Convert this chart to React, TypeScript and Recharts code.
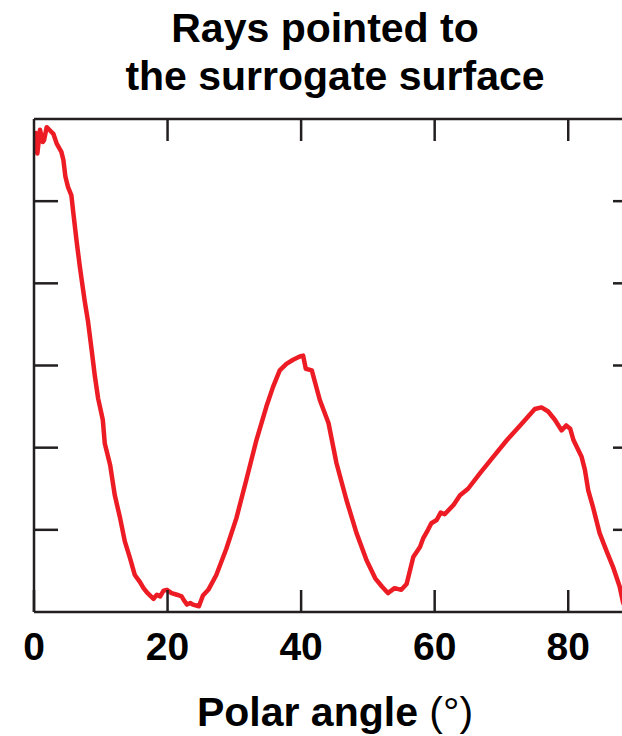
import React from 'react';
import { LineChart, Line, XAxis, YAxis } from 'recharts';

// polar angle (deg) and relative ray count
const angles = [
  0, 0.3, 0.5, 0.9, 1.3, 1.5, 1.9, 2.4, 2.9, 3.4, 4.1, 4.4, 4.7, 5.1, 5.6, 5.9,
  6.4, 6.9, 7.6, 8.1, 8.6, 9.1, 9.6, 10.3, 10.6, 11.4, 12.1, 12.9, 13.6, 14.4,
  15.1, 15.9, 16.4, 16.9, 17.4, 17.9, 18.4, 18.9, 19.4, 19.9, 20.6, 21.4, 22.1,
  22.4, 22.9, 23.4, 23.8, 24.7, 25.3, 26.1, 27.3, 28.8, 30.3, 31.8, 33.3, 34.8,
  35.8, 36.8, 37.8, 38.8, 39.8, 40.3, 40.7, 41.6, 42.8, 44.1, 45.3, 46.8, 48.3,
  49.8, 51.1, 52.1, 53.0, 54.0, 55.0, 55.8, 56.8, 57.8, 58.3, 59.0, 59.5, 60.3,
  60.9, 61.5, 62.8, 63.8, 65.0, 66.8, 68.8, 70.8, 72.8, 74.0, 75.0, 76.0, 77.0,
  78.0, 79.0, 79.7, 80.3, 80.8, 82.0, 82.5, 83.0, 83.7, 84.7, 85.7, 86.7, 87.7,
  88.2, 88.8,
];
const rayCount = [
  5.65, 5.83, 5.58, 5.87, 5.72, 5.74, 5.9, 5.86, 5.82, 5.7, 5.6, 5.5, 5.3, 5.17,
  5.07, 4.85, 4.5, 4.18, 3.78, 3.53, 3.21, 2.88, 2.6, 2.34, 2.05, 1.79, 1.42,
  1.14, 0.86, 0.65, 0.45, 0.36, 0.29, 0.24, 0.2, 0.16, 0.21, 0.19, 0.26, 0.27,
  0.23, 0.21, 0.19, 0.15, 0.09, 0.11, 0.09, 0.07, 0.2, 0.27, 0.45, 0.77, 1.14,
  1.61, 2.09, 2.5, 2.74, 2.94, 3.02, 3.07, 3.11, 3.12, 2.96, 2.94, 2.58, 2.3,
  1.81, 1.36, 0.96, 0.63, 0.41, 0.31, 0.23, 0.29, 0.27, 0.34, 0.67, 0.79, 0.9,
  1.0, 1.08, 1.12, 1.21, 1.19, 1.3, 1.42, 1.5, 1.69, 1.89, 2.09, 2.27, 2.38,
  2.47, 2.49, 2.44, 2.34, 2.21, 2.27, 2.23, 2.09, 1.89, 1.73, 1.48, 1.28, 0.96,
  0.75, 0.55, 0.31, 0.12, 0.0,
];

const bottomTicks = [0, 20, 40, 60, 80];
const topTicks = [20, 40, 60, 80];
const sideTicks = [1, 2, 3, 4, 5];
const titleLines = ['Rays pointed to', 'the surrogate surface'];
const xLabel = 'Polar angle';
const xUnit = '(°)';

const data = angles.map((a, i) => ({ angle: a, count: rayCount[i] }));

const AXIS = '#231f20';
const RED = '#ed1c24';
const FONT = '"Liberation Sans", Arial, Helvetica, sans-serif';

const BottomTick = (props: any) => {
  const { x, y, payload } = props;
  return (
    <g>
      <line x1={x} x2={x} y1={y} y2={y - 22} stroke={AXIS} strokeWidth={2.5} />
      <text x={x} y={y + 48} textAnchor="middle" fontSize={39} fontWeight="bold" fontFamily={FONT} fill="#000">
        {payload.value}
      </text>
    </g>
  );
};

const TopTick = (props: any) => (
  <line x1={props.x} x2={props.x} y1={props.y} y2={props.y + 22} stroke={AXIS} strokeWidth={2.5} />
);

const LeftTick = (props: any) => (
  <line x1={props.x} x2={props.x + 24} y1={props.y} y2={props.y} stroke={AXIS} strokeWidth={2.5} />
);

const RightTick = (props: any) => (
  <line x1={props.x} x2={props.x - 22} y1={props.y} y2={props.y} stroke={AXIS} strokeWidth={2.5} />
);

const axisLine = { stroke: AXIS, strokeWidth: 2.5 };

export default function App() {
  return (
    <div style={{ position: 'fixed', left: 0, top: 0, width: 622, height: 736, overflow: 'hidden', background: '#fff' }}>
      <LineChart width={680} height={736} data={data} margin={{ top: 118, right: 44, bottom: 123, left: 33 }}>
        <XAxis
          xAxisId="bottom"
          dataKey="angle"
          type="number"
          domain={[0, 90]}
          ticks={bottomTicks}
          interval={0}
          height={1}
          tickSize={0}
          tickMargin={0}
          tickLine={false}
          axisLine={axisLine}
          tick={BottomTick}
          allowDataOverflow
        />
        <XAxis
          xAxisId="top"
          orientation="top"
          dataKey="angle"
          type="number"
          domain={[0, 90]}
          ticks={topTicks}
          interval={0}
          height={1}
          tickSize={0}
          tickMargin={0}
          tickLine={false}
          axisLine={axisLine}
          tick={TopTick}
          allowDataOverflow
        />
        <YAxis
          yAxisId="left"
          type="number"
          domain={[0, 6]}
          ticks={sideTicks}
          interval={0}
          width={1}
          tickSize={0}
          tickMargin={0}
          tickLine={false}
          axisLine={axisLine}
          tick={LeftTick}
          allowDataOverflow
        />
        <YAxis
          yAxisId="right"
          orientation="right"
          type="number"
          domain={[0, 6]}
          ticks={sideTicks}
          interval={0}
          width={1}
          tickSize={0}
          tickMargin={0}
          tickLine={false}
          axisLine={axisLine}
          tick={RightTick}
          allowDataOverflow
        />
        <Line
          xAxisId="bottom"
          yAxisId="left"
          type="linear"
          dataKey="count"
          stroke={RED}
          strokeWidth={4.5}
          strokeLinejoin="round"
          strokeLinecap="round"
          dot={false}
          isAnimationActive={false}
        />
      </LineChart>
      <svg width={622} height={736} style={{ position: 'absolute', left: 0, top: 0, pointerEvents: 'none' }}>
        <text x={325} y={42} textAnchor="middle" fontSize={41} fontWeight="bold" fontFamily={FONT} fill="#000">
          {titleLines[0]}
        </text>
        <text x={335} y={90} textAnchor="middle" fontSize={41} fontWeight="bold" fontFamily={FONT} fill="#000">
          {titleLines[1]}
        </text>
        <text x={335} y={726} textAnchor="middle" fontSize={41} fontFamily={FONT} fill="#000">
          <tspan fontWeight="bold">{xLabel}</tspan>
          <tspan fontWeight="normal"> {xUnit}</tspan>
        </text>
      </svg>
    </div>
  );
}
